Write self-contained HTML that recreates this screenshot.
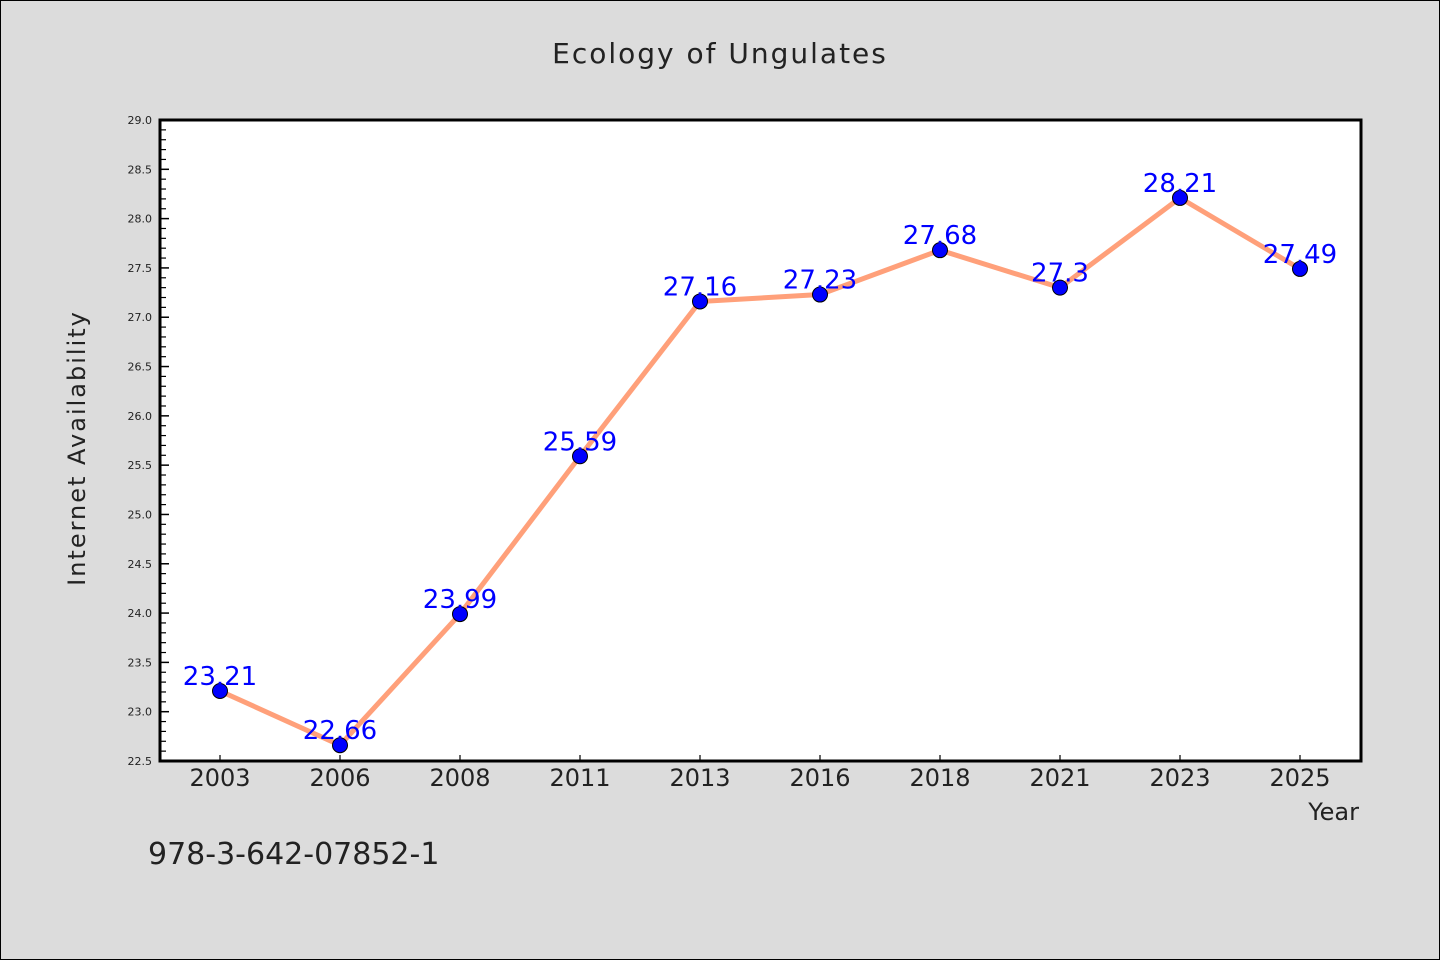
<!DOCTYPE html>
<html><head><meta charset="utf-8"><style>
body{margin:0;background:#dcdcdc;}
svg{display:block;font-family:"DejaVu Sans","Liberation Sans",sans-serif;}
</style></head><body>
<svg id="chart" width="1440" height="960">
<rect x="0.5" y="0.5" width="1439" height="959" fill="#dcdcdc" stroke="#000"/>
<text x="720" y="63" text-anchor="middle" font-size="28" fill="#222" letter-spacing="2">Ecology of Ungulates</text>
<rect x="160" y="120" width="1201" height="641" fill="#fff"/>
<g id="yaxis"></g>
<g id="xaxis"></g>
<g id="series"></g>
<rect x="160" y="120" width="1201" height="641" fill="none" stroke="#000" stroke-width="3"/>
<text transform="translate(85,448) rotate(-90)" text-anchor="middle" font-size="24" fill="#222" letter-spacing="2">Internet Availability</text>
<text x="1359" y="820" text-anchor="end" font-size="24" fill="#222">Year</text>
<text x="148" y="864" font-size="30" fill="#222">978-3-642-07852-1</text>
</svg>
<script>
const categories=["2003","2006","2008","2011","2013","2016","2018","2021","2023","2025"];
const values=[23.21,22.66,23.99,25.59,27.16,27.23,27.68,27.3,28.21,27.49];
const valueLabels=["23.21","22.66","23.99","25.59","27.16","27.23","27.68","27.3","28.21","27.49"];
const yTicks=[22.5,23.0,23.5,24.0,24.5,25.0,25.5,26.0,26.5,27.0,27.5,28.0,28.5,29.0];
const NS="http://www.w3.org/2000/svg";
const X0=160,X1=1361,Y0=761,Y1=120,yMin=22.5,yMax=29;
function xs(i){return 220+i*(1300-220)/(categories.length-1);}
function ys(v){return Y0-(v-yMin)/(yMax-yMin)*(Y0-Y1);}
function mk(tag,attrs,parent){const e=document.createElementNS(NS,tag);for(const k in attrs)e.setAttribute(k,attrs[k]);parent.appendChild(e);return e;}
const ya=document.getElementById('yaxis'),xa=document.getElementById('xaxis'),sg=document.getElementById('series');
for(let k=0;k<yTicks.length;k++){
  const v=yTicks[k],y=ys(v);
  const t=mk('line',{x1:X0,x2:X0+9,y1:y,y2:y,stroke:'#000','stroke-width':1.5},ya);
  
  
  const lb=mk('text',{x:X0-8,y:y+4,'text-anchor':'end','font-size':11,fill:'#222'},ya);
  lb.textContent=v.toFixed(1);
  
  
  if(k<yTicks.length-1){for(let m=1;m<5;m++){const ym=ys(v+m*0.1);
    const mt=mk('line',{x1:X0,x2:X0+6,y1:ym,y2:ym,stroke:'#000','stroke-width':1.2},ya);
    
    }}
}
categories.forEach((c,i)=>{
  const x=xs(i);
  const t=mk('line',{x1:x,x2:x,y1:Y0,y2:Y0-6,stroke:'#000','stroke-width':1.2},xa);
  
  
  const lb=mk('text',{x:x,y:786,'text-anchor':'middle','font-size':24,fill:'#222'},xa);
  lb.textContent=c;
  
  
});
const pts=values.map((v,i)=>xs(i)+','+ys(v)).join(' ');
const pl=mk('polyline',{points:pts,fill:'none',stroke:'#ffa07a','stroke-width':5,'stroke-linejoin':'round'},sg);


values.forEach((v,i)=>{
  const c=mk('circle',{cx:xs(i),cy:ys(v),r:7.5,fill:'#0000ff',stroke:'#000','stroke-width':1},sg);
  
  
});
values.forEach((v,i)=>{
  const t=mk('text',{x:xs(i),y:ys(v)-6,'text-anchor':'middle','font-size':26,fill:'#0000ff'},sg);
  t.textContent=valueLabels[i];
  
  
});
</script>
</body></html>
